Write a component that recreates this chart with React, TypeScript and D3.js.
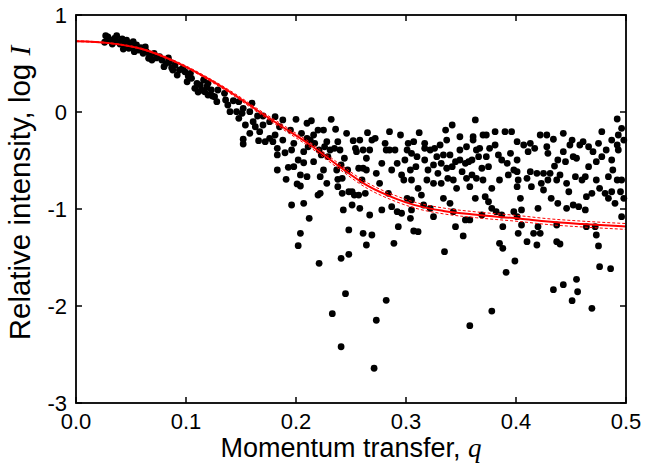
import React from "react";
import * as d3 from "d3";

// chart size and plot box
const W = 649;
const H = 463;
const M = { left: 76, top: 15, right: 23, bottom: 60 };

// x / y ticks
const xTicks = [0, 0.1, 0.2, 0.3, 0.4, 0.5];
const yTicks = [-3, -2, -1, 0, 1];

const lowQPoints: [number, number][] = [
  [0.027, 0.787], [0.026, 0.719], [0.031, 0.742], [0.035, 0.76], [0.037, 0.787], [0.038, 0.725],
  [0.036, 0.742], [0.042, 0.753], [0.044, 0.698], [0.046, 0.742], [0.048, 0.657], [0.043, 0.649],
  [0.049, 0.708], [0.052, 0.725], [0.055, 0.691], [0.057, 0.639], [0.053, 0.622], [0.059, 0.663],
  [0.061, 0.605], [0.064, 0.622], [0.067, 0.58], [0.069, 0.536], [0.066, 0.554], [0.071, 0.605],
  [0.076, 0.57], [0.078, 0.536], [0.08, 0.467], [0.082, 0.502], [0.085, 0.519], [0.087, 0.457],
  [0.09, 0.485], [0.092, 0.381], [0.094, 0.433], [0.097, 0.451], [0.099, 0.415], [0.101, 0.312],
  [0.104, 0.399], [0.105, 0.347], [0.108, 0.244], [0.11, 0.296], [0.113, 0.278], [0.114, 0.227],
  [0.116, 0.33], [0.119, 0.261], [0.12, 0.175], [0.123, 0.227], [0.124, 0.165],
  [0.029, 0.773], [0.033, 0.701], [0.04, 0.701], [0.051, 0.67], [0.063, 0.67], [0.073, 0.557],
  [0.084, 0.557], [0.088, 0.433], [0.102, 0.371], [0.111, 0.206],
  [0.117, 0.209], [0.12, 0.296], [0.126, 0.158], [0.128, 0.106], [0.129, 0.227], [0.135, 0.193],
  [0.136, 0.124], [0.138, 0.072], [0.14, 0.003], [0.143, 0.116], [0.146, 0.003], [0.148, -0.065],
  [0.148, 0.106], [0.151, -0.013], [0.152, 0.038], [0.154, -0.134], [0.152, -0.281], [0.152, -0.33],
  [0.158, 0.003], [0.158, -0.22], [0.16, 0.09], [0.161, -0.1], [0.163, -0.152], [0.165, -0.041],
  [0.166, -0.296], [0.167, -0.203], [0.17, -0.134], [0.17, -0.041], [0.172, -0.306], [0.176, -0.1],
  [0.176, -0.271], [0.179, -0.306], [0.181, -0.048], [0.181, -0.237], [0.183, -0.374], [0.183, -0.443],
  [0.185, -0.152], [0.188, -0.082], [0.188, -0.289], [0.183, -0.598], [0.19, -0.42], [0.191, -0.694],
  [0.193, -0.57], [0.195, -0.186], [0.196, -0.392], [0.198, -0.323], [0.2, -0.075], [0.201, -0.742],
  [0.198, -0.564], [0.202, -0.495], [0.204, -0.763], [0.204, -0.649], [0.205, -0.22], [0.207, -0.409],
  [0.207, -0.523], [0.21, -0.116], [0.21, -0.667], [0.211, -0.358], [0.196, -0.959], [0.207, -0.941],
  [0.212, -1.096], [0.204, -1.251], [0.202, -1.378],
];

const midQPoints: [number, number][] = [
  [0.214, -0.09], [0.21, -0.271], [0.213, -0.289], [0.216, -0.237], [0.217, -0.323], [0.22, -0.186],
  [0.225, -0.186], [0.221, -0.392], [0.223, -0.443], [0.216, -0.512], [0.222, -0.667], [0.225, -0.598],
  [0.226, -0.358], [0.228, -0.306], [0.229, -0.461], [0.231, -0.392], [0.232, -0.075], [0.228, -0.735],
  [0.22, -0.856], [0.222, -0.838], [0.235, -0.374], [0.236, -0.178], [0.238, -0.306], [0.24, -0.392],
  [0.237, -0.598], [0.238, -0.694], [0.241, -0.546], [0.242, -0.684], [0.238, -0.77], [0.242, -0.838],
  [0.244, -0.477], [0.246, -0.22], [0.247, -0.598], [0.248, -0.822], [0.251, -0.822], [0.252, -0.296],
  [0.254, -0.374], [0.253, -0.856], [0.255, -0.409], [0.257, -0.58], [0.258, -0.289], [0.26, -0.701],
  [0.261, -0.392], [0.261, -0.58], [0.264, -0.477], [0.265, -0.213], [0.264, -0.598], [0.257, -0.856],
  [0.263, -0.838], [0.267, -0.392], [0.269, -0.289], [0.272, -0.271], [0.273, -0.632], [0.276, -0.735],
  [0.278, -0.529], [0.281, -0.323], [0.282, -0.392], [0.285, -0.203], [0.285, -0.392], [0.287, -0.598],
  [0.29, -0.392], [0.292, -0.529], [0.295, -0.237], [0.296, -0.649], [0.298, -0.701], [0.299, -0.495],
  [0.301, -0.392], [0.302, -0.323], [0.304, -0.598], [0.305, -0.701], [0.305, -0.907], [0.284, -0.838],
  [0.287, -0.976], [0.292, -1.028], [0.296, -1.044], [0.301, -0.89], [0.304, -1.096], [0.243, -1.01],
  [0.251, -0.959], [0.258, -0.993], [0.267, -1.062], [0.278, -1.01], [0.248, -1.216], [0.261, -1.251],
  [0.269, -1.268], [0.264, -1.371], [0.289, -1.354], [0.293, -1.182], [0.307, -1.227], [0.248, -1.467],
  [0.241, -1.508], [0.221, -1.56],
  [0.312, -0.213], [0.307, -0.306], [0.305, -0.426], [0.31, -0.461], [0.309, -0.564], [0.311, -0.787],
  [0.314, -0.856], [0.317, -0.323], [0.317, -0.374], [0.317, -0.495], [0.32, -0.598], [0.319, -0.701],
  [0.322, -0.392], [0.325, -0.546], [0.325, -0.735], [0.326, -0.374], [0.328, -0.461], [0.329, -0.632],
  [0.331, -0.34], [0.332, -0.529], [0.332, -0.735], [0.334, -0.443], [0.336, -0.186], [0.337, -0.289],
  [0.337, -0.58], [0.338, -0.684], [0.342, -0.134], [0.34, -0.443], [0.342, -0.564], [0.343, -0.701],
  [0.345, -0.512], [0.346, -0.787], [0.349, -0.255], [0.349, -0.392], [0.349, -0.495], [0.351, -0.615],
  [0.354, -0.529], [0.355, -0.358], [0.355, -0.684], [0.357, -0.512], [0.358, -0.77], [0.36, -0.495],
  [0.36, -0.649], [0.361, -0.255], [0.363, -0.082], [0.361, -0.289], [0.364, -0.392], [0.366, -0.461],
  [0.364, -0.684], [0.367, -0.374], [0.369, -0.58], [0.37, -0.237], [0.37, -0.701], [0.373, -0.461],
  [0.373, -0.237], [0.375, -0.564], [0.376, -0.374], [0.378, -0.787], [0.381, -0.203], [0.381, -0.34],
  [0.384, -0.443], [0.385, -0.701], [0.387, -0.495], [0.39, -0.203], [0.392, -0.529], [0.393, -0.649],
  [0.395, -0.426], [0.396, -0.203], [0.398, -0.598],
  [0.305, -1.01], [0.311, -1.234], [0.316, -0.959], [0.322, -0.993], [0.325, -1.079], [0.334, -0.89],
  [0.34, -0.941], [0.343, -1.028], [0.335, -1.44], [0.345, -1.182], [0.352, -1.278], [0.354, -1.113],
  [0.358, -1.113], [0.363, -0.89], [0.369, -1.062], [0.372, -0.873], [0.375, -0.925], [0.378, -0.993],
  [0.382, -1.028], [0.387, -1.062], [0.385, -1.354], [0.388, -1.405], [0.388, -1.182], [0.398, -1.028],
];

const highQPoints: [number, number][] = [
  [0.401, -0.306], [0.401, -0.495], [0.402, -0.701], [0.401, -1.079], [0.401, -0.615], [0.401, -0.77],
  [0.404, -0.89], [0.405, -1.01], [0.407, -0.34], [0.411, -0.409], [0.413, -0.323], [0.41, -0.684],
  [0.413, -0.615], [0.414, -0.77], [0.417, -0.374], [0.419, -0.632], [0.42, -0.993], [0.422, -0.237],
  [0.423, -0.735], [0.425, -0.632], [0.425, -0.804], [0.428, -0.237], [0.428, -0.358], [0.429, -0.426],
  [0.429, -0.701], [0.431, -0.632], [0.432, -0.89], [0.434, -0.281], [0.435, -0.557], [0.437, -0.701],
  [0.438, -0.495], [0.438, -0.941], [0.44, -0.649], [0.443, -0.22], [0.443, -0.409], [0.445, -0.512],
  [0.446, -0.735], [0.448, -0.822], [0.446, -0.993], [0.449, -0.34], [0.451, -0.289], [0.452, -0.461],
  [0.454, -0.667], [0.452, -0.959], [0.455, -0.477], [0.457, -0.976], [0.458, -0.34], [0.46, -0.701],
  [0.461, -0.306], [0.463, -0.667], [0.463, -1.01], [0.464, -0.873], [0.466, -0.358], [0.466, -0.564],
  [0.469, -0.838], [0.47, -0.409], [0.473, -0.512], [0.473, -0.701], [0.475, -0.323], [0.476, -0.787],
  [0.478, -0.203], [0.478, -0.461], [0.481, -0.838], [0.482, -0.392], [0.484, -0.667], [0.484, -0.89],
  [0.487, -0.289], [0.487, -0.495], [0.487, -0.822], [0.488, -0.598], [0.49, -0.941], [0.492, -0.34],
  [0.492, -0.701], [0.493, -0.392], [0.493, -0.237], [0.495, -0.822], [0.496, -0.168], [0.498, -0.289],
  [0.496, -0.701], [0.498, -0.89], [0.496, -1.079], [0.492, -0.072],
  [0.402, -1.251], [0.405, -1.165], [0.41, -1.337], [0.416, -1.251], [0.419, -1.371], [0.42, -1.182],
  [0.422, -1.251], [0.437, -1.165], [0.437, -1.337], [0.44, -1.361], [0.464, -1.182], [0.472, -1.182],
  [0.473, -1.268], [0.475, -1.381],
];

const outlierPoints: [number, number][] = [
  [0.245, -1.873], [0.233, -2.079], [0.241, -2.42], [0.271, -2.642], [0.273, -2.147], [0.282, -1.941],
  [0.358, -2.203], [0.378, -2.052], [0.391, -1.653], [0.399, -1.536], [0.434, -1.832], [0.443, -1.78],
  [0.455, -1.725], [0.456, -1.853], [0.451, -1.945], [0.469, -2.024], [0.476, -1.595], [0.486, -1.615],
];

// fitted curve and its confidence half-width
const fitQ = [0, 0.03, 0.06, 0.09, 0.122, 0.145, 0.167, 0.19, 0.213, 0.238, 0.265, 0.29, 0.308, 0.334, 0.364, 0.404, 0.429, 0.46, 0.5];
const fitLogI = [0.73, 0.71, 0.65, 0.52, 0.33, 0.17, 0.0, -0.17, -0.34, -0.55, -0.76, -0.89, -0.96, -1.02, -1.06, -1.1, -1.13, -1.155, -1.18];
const fitBand = [0.004, 0.004, 0.006, 0.008, 0.012, 0.015, 0.018, 0.022, 0.025, 0.027, 0.029, 0.03, 0.03, 0.03, 0.03, 0.03, 0.03, 0.03, 0.03];

const sans = "'Liberation Sans', Arial, Helvetica, sans-serif";
const serif = "'Liberation Serif', 'Times New Roman', serif";

export default function App() {
  const iw = W - M.left - M.right;
  const ih = H - M.top - M.bottom;
  const x = d3.scaleLinear().domain([0, 0.5]).range([0, iw]);
  const y = d3.scaleLinear().domain([-3, 1]).range([ih, 0]);

  const line = d3
    .line<number>()
    .x((_, i) => x(fitQ[i]))
    .curve(d3.curveMonotoneX);

  const mainPath = line.y((d) => y(d))(fitLogI);
  const upperPath = line.y((d, i) => y(d + fitBand[i]))(fitLogI);
  const lowerPath = line.y((d, i) => y(d - fitBand[i]))(fitLogI);

  const allPoints = [...lowQPoints, ...midQPoints, ...highQPoints, ...outlierPoints];

  return (
    <svg width={W} height={H} style={{ position: "absolute", left: 0, top: 0, background: "#fff" }}>
      <g transform={`translate(${M.left},${M.top})`}>
        <defs>
          <clipPath id="plot">
            <rect width={iw} height={ih} />
          </clipPath>
        </defs>

        <g>
          {allPoints.map((p, i) => (
            <circle key={i} cx={x(p[0])} cy={y(p[1])} r={3.4} fill="#000" />
          ))}
        </g>

        <g clipPath="url(#plot)" fill="none" stroke="#ff0000">
          <path d={upperPath ?? ""} strokeWidth={1} strokeDasharray="3,2" />
          <path d={lowerPath ?? ""} strokeWidth={1} strokeDasharray="3,2" />
          <path d={mainPath ?? ""} strokeWidth={2} />
        </g>

        {/* frame */}
        <rect width={iw} height={ih} fill="none" stroke="#000" strokeWidth={1.8} />

        {/* ticks on all four sides, pointing in */}
        <g stroke="#000" strokeWidth={1.5}>
          {xTicks.map((t) => (
            <g key={"x" + t}>
              <line x1={x(t)} x2={x(t)} y1={ih} y2={ih - 6} />
              <line x1={x(t)} x2={x(t)} y1={0} y2={6} />
            </g>
          ))}
          {yTicks.map((t) => (
            <g key={"y" + t}>
              <line x1={0} x2={6} y1={y(t)} y2={y(t)} />
              <line x1={iw} x2={iw - 6} y1={y(t)} y2={y(t)} />
            </g>
          ))}
        </g>

        <g fontFamily={sans} fontSize={22} fill="#000">
          {xTicks.map((t) => (
            <text key={"xl" + t} x={x(t)} y={ih + 26} textAnchor="middle">
              {d3.format(".1f")(t)}
            </text>
          ))}
          {yTicks.map((t) => (
            <text key={"yl" + t} x={-9} y={y(t)} dy="0.36em" textAnchor="end">
              {t}
            </text>
          ))}
        </g>

        <text x={iw / 2} y={ih + 54} textAnchor="middle" fontFamily={sans} fontSize={27}>
          Momentum transfer,{" "}
          <tspan fontFamily={serif} fontStyle="italic">q</tspan>
        </text>
        <text
          transform={`translate(${-46},${ih / 2 - 16}) rotate(-90)`}
          textAnchor="middle"
          fontFamily={sans}
          fontSize={29.5}
        >
          Relative intensity, log{" "}
          <tspan fontFamily={serif} fontStyle="italic">I</tspan>
        </text>
      </g>
    </svg>
  );
}
